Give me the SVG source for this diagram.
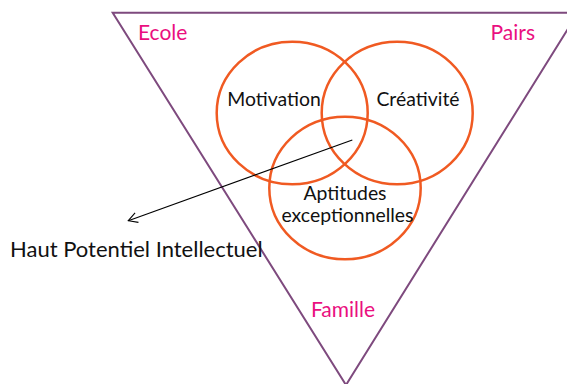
<svg xmlns="http://www.w3.org/2000/svg" width="567" height="384" viewBox="0 0 567 384">
<style>
.bg{fill:#ffffff}
.tri{fill:none;stroke:#7e4a7e;stroke-width:2}
.ven{fill:none;stroke:#f05a22;stroke-width:2.5}
.ctx{font-family:Lato,"Open Sans",sans-serif;font-size:21px;fill:#ea0f80}
.lbl{font-family:Lato,"Open Sans",sans-serif;font-size:19.4px;fill:#111111}
.big{font-family:Lato,"Open Sans",sans-serif;font-size:22px;fill:#111111}
.conn{fill:none;stroke:#000000;stroke-width:1.1}
</style>
<defs>
<marker id="open" markerWidth="12" markerHeight="12" refX="10" refY="6" orient="auto" markerUnits="userSpaceOnUse">
<path d="M1,1 L10,6 L1,11" fill="none" stroke="#000000" stroke-width="1.1"/>
</marker>
</defs>
<rect class="bg" x="0" y="0" width="567" height="384"/>
<g id="triangle">
<polygon class="tri" points="112.7,12.7 578,12.7 346,385"/>
</g>
<g id="ecole"><text class="ctx" x="138" y="40">Ecole</text></g>
<g id="pairs"><text class="ctx" x="535" y="40" text-anchor="end">Pairs</text></g>
<g id="famille"><text class="ctx" x="343" y="317" text-anchor="middle">Famille</text></g>
<g id="motivation">
<ellipse class="ven" cx="292.2" cy="113" rx="75.5" ry="71.3"/>
<text class="lbl" x="274" y="106" text-anchor="middle">Motivation</text>
</g>
<g id="creativite">
<ellipse class="ven" cx="397.2" cy="113" rx="75.5" ry="71.3"/>
<text class="lbl" x="418" y="106" text-anchor="middle">Créativité</text>
</g>
<g id="aptitudes">
<ellipse class="ven" cx="345" cy="188" rx="75.7" ry="71.3"/>
<text class="lbl" x="345" y="200" text-anchor="middle">Aptitudes</text>
<text class="lbl" x="347.5" y="222" text-anchor="middle">exceptionnelles</text>
</g>
<g id="hpi"><text class="big" x="10" y="257">Haut Potentiel Intellectuel</text></g>
<g id="connectors">
<line class="conn" x1="352.3" y1="140" x2="128.3" y2="220.7" marker-end="url(#open)"/>
</g>
</svg>
